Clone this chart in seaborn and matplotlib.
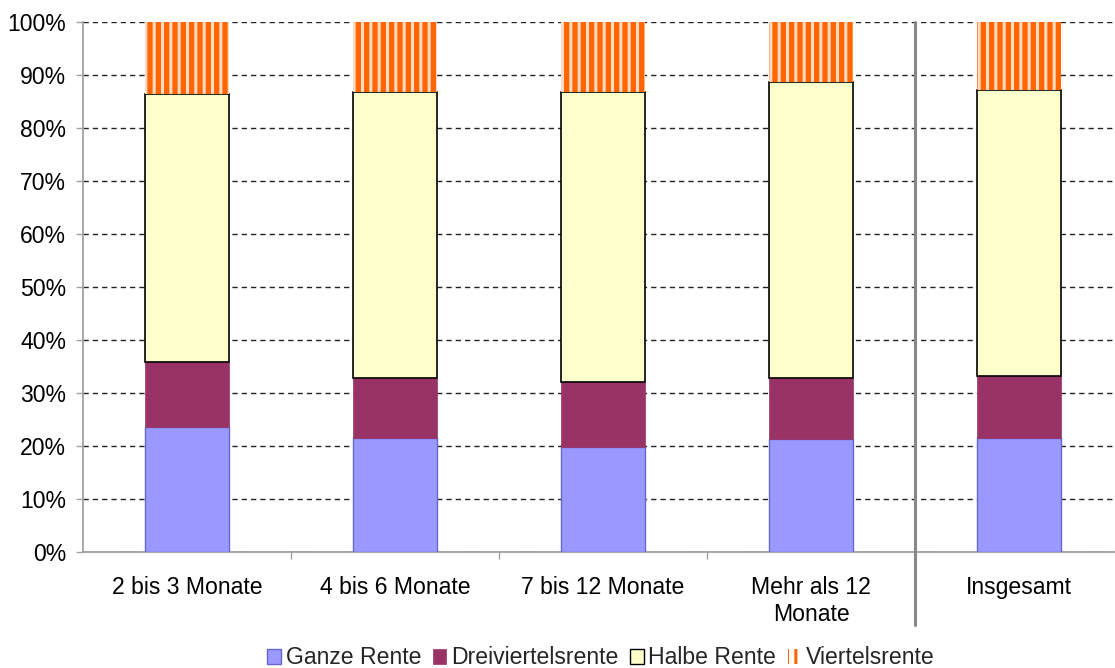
import matplotlib
matplotlib.use("Agg")
import matplotlib.pyplot as plt
from matplotlib.patches import Patch
import seaborn as sns
import numpy as np
import pandas as pd

categories = ["2 bis 3 Monate", "4 bis 6 Monate", "7 bis 12 Monate", "Mehr als 12\nMonate", "Insgesamt"]
ganze = [23.6, 21.5, 19.8, 21.3, 21.5]
dreiviertel = [12.2, 11.3, 12.3, 11.5, 11.7]
halbe = [50.6, 54.0, 54.7, 55.9, 54.0]
viertel = [13.6, 13.2, 13.2, 11.3, 12.8]
series_names = ["Ganze Rente", "Dreiviertelsrente", "Halbe Rente", "Viertelsrente"]
yticks = [0, 10, 20, 30, 40, 50, 60, 70, 80, 90, 100]

sns.set_theme(style="white")
plt.rcParams["font.family"] = ["Liberation Sans", "DejaVu Sans"]
plt.rcParams["hatch.linewidth"] = 2.2

FS = 16.6

fig = plt.figure(figsize=(11.15, 6.68), dpi=100)
ax = fig.add_axes([83 / 1115, 1 - 552 / 668, 1032 / 1115, 530 / 668])

styles = [
    dict(color="#9999FF", edgecolor="#6666CC", linewidth=1.0),
    dict(color="#993366", edgecolor="#993366", linewidth=0.5),
    dict(color="#FFFFCC", edgecolor="black", linewidth=1.2),
    dict(color="#FF6600", edgecolor="#FFD9C2", linewidth=0, hatch="||"),
]

data = [ganze, dreiviertel, halbe, viertel]
bottom = np.zeros(len(categories))
for name, vals, st in zip(series_names, data, styles):
    df = pd.DataFrame({"cat": categories, "val": vals})
    sns.barplot(data=df, x="cat", y="val", ax=ax, width=0.404, bottom=bottom,
                errorbar=None, saturation=1, zorder=3, **st)
    bottom = bottom + np.array(vals)

ax.set_xlim(-0.5, 4.46)
ax.set_ylim(0, 100)
ax.set_xlabel("")
ax.set_ylabel("")
ax.set_yticks(yticks)
ax.set_yticklabels([f"{v}%" for v in yticks])
ax.yaxis.grid(True, color="#222222", linestyle=(0, (3.8, 2.9)), linewidth=1.0, zorder=0)
ax.set_axisbelow(True)

for s in ["top", "right"]:
    ax.spines[s].set_visible(False)
for s in ["left", "bottom"]:
    ax.spines[s].set_color("#A0A0A0")
    ax.spines[s].set_linewidth(1.3)

ax.tick_params(axis="y", which="major", left=True, length=5, width=1.0, color="#A0A0A0",
               labelsize=FS, pad=7, labelcolor="black")
ax.set_xticks(range(len(categories)))
ax.set_xticklabels(categories, linespacing=1.25)
ax.set_xticks([0.5, 1.5, 2.5, 3.5], minor=True)
ax.tick_params(axis="x", which="major", length=0, labelsize=FS, pad=17, labelcolor="black")
ax.tick_params(axis="x", which="minor", bottom=True, length=5, width=1.0, color="#A0A0A0")

ax.axvline(3.5, ymin=-0.138, ymax=1.0, color="#888888", linewidth=2.2, clip_on=False, zorder=5)

handles = [
    Patch(facecolor="#9999FF", edgecolor="#6666CC", linewidth=1.0),
    Patch(facecolor="#993366", edgecolor="#993366", linewidth=0.5),
    Patch(facecolor="#FFFFCC", edgecolor="black", linewidth=1.0),
    Patch(facecolor="white", edgecolor="#FF6600", linewidth=0, hatch="||"),
]
fig.legend(handles, series_names, loc="center", bbox_to_anchor=(601 / 1115, 1 - 658 / 668),
           ncol=4, frameon=False, fontsize=FS, handlelength=0.6, handleheight=0.6,
           handletextpad=0.2, columnspacing=0.5, borderpad=0)

fig.savefig("out.png", dpi=100)
